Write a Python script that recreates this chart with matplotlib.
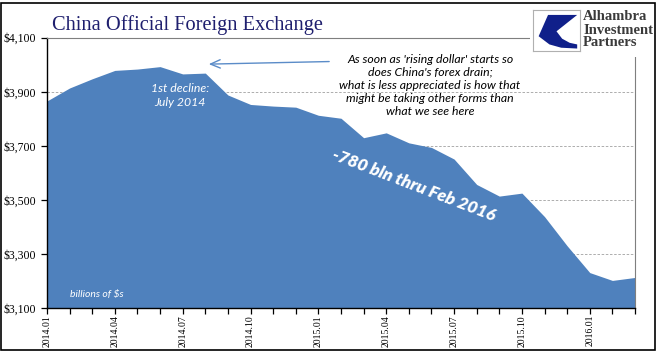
import numpy as np
import matplotlib
matplotlib.use("Agg")
import matplotlib.pyplot as plt
from matplotlib.patches import Rectangle, Polygon

# China official FX reserves, billions of USD, monthly
months = ["2014.01", "2014.02", "2014.03", "2014.04", "2014.05", "2014.06",
          "2014.07", "2014.08", "2014.09", "2014.10", "2014.11", "2014.12",
          "2015.01", "2015.02", "2015.03", "2015.04", "2015.05", "2015.06",
          "2015.07", "2015.08", "2015.09", "2015.10", "2015.11", "2015.12",
          "2016.01", "2016.02", "2016.03"]
reserves = [3866, 3914, 3948, 3979, 3984, 3993,
            3966, 3969, 3888, 3853, 3847, 3843,
            3813, 3802, 3730, 3748, 3711, 3694,
            3651, 3557, 3514, 3525, 3438, 3330,
            3231, 3202, 3213]
y_ticks = [3100, 3300, 3500, 3700, 3900, 4100]

blue = "#4F81BD"
serif = "Liberation Serif"
sans = "Lato"

fig = plt.figure(figsize=(6.64, 3.61), dpi=100)
ax = fig.add_axes([47 / 664, 53 / 361, 588 / 664, 270.3 / 361])

x = np.arange(len(months))
ax.fill_between(x, reserves, y_ticks[0], color=blue, linewidth=0, zorder=2)

ax.set_xlim(0, len(months) - 1)
ax.set_ylim(y_ticks[0], y_ticks[-1])

# axes styling
ax.set_yticks(y_ticks)
ax.set_yticklabels([f"${v:,}" for v in y_ticks], fontfamily=serif, fontsize=8.5)
ax.set_xticks(x[::3])
ax.set_xticklabels(months[::3], rotation=90, fontfamily=serif, fontsize=7)
ax.set_xticks(x, minor=True)
ax.tick_params(axis="both", which="both", direction="out", length=4, width=0.9,
               colors="black")
ax.tick_params(axis="x", pad=1)
ax.tick_params(axis="y", pad=4)

for v in y_ticks[1:-1]:
    ax.axhline(v, color="#A0A0A0", linestyle=(0, (3, 2)), linewidth=0.6, zorder=1)

ax.spines["left"].set_color("black")
ax.spines["bottom"].set_color("black")
ax.spines["left"].set_linewidth(1.0)
ax.spines["bottom"].set_linewidth(1.0)
ax.spines["top"].set_color("#7F7F7F")
ax.spines["right"].set_color("#7F7F7F")
ax.spines["top"].set_linewidth(0.8)
ax.spines["right"].set_linewidth(0.8)

# annotations
ax.annotate("", xy=(7.03, 4002), xytext=(12.6, 4012),
            arrowprops=dict(arrowstyle="->,head_length=0.7,head_width=0.3",
                            color="#5B8CC8", lw=1.0), zorder=5)
ax.text(16.94, 3924,
        "As soon as 'rising dollar' starts so\ndoes China's forex drain;\n"
        "what is less appreciated is how that\nmight be taking other forms than\n"
        "what we see here",
        ha="center", va="center", fontsize=8.8, fontstyle="italic",
        fontfamily=sans, linespacing=1.22, color="black", zorder=5)
ax.text(5.88, 3886, "1st decline:\nJuly 2014", ha="center", va="center",
        fontsize=8.8, fontstyle="italic", fontfamily=sans, color="white",
        linespacing=1.3, zorder=5)
ax.text(1.02, 3151, "billions of $s", ha="left", va="center", fontsize=7.5,
        fontstyle="italic", fontfamily=sans, color="white", zorder=5)
ax.text(16.2, 3553, "-780 bln thru Feb 2016", ha="center", va="center",
        rotation=-21, rotation_mode="anchor", fontsize=12.5, fontweight="heavy",
        fontstyle="italic", fontfamily=sans, color="white", zorder=5)

# title
fig.text(52 / 664, (361 - 30) / 361, "China Official Foreign Exchange",
         fontfamily=serif, fontsize=14.7, color="#1F1F6E", va="baseline", ha="left")

# outer frame
fig.patches.append(Rectangle((1 / 664, 11 / 361), 654 / 664, 347 / 361,
                             transform=fig.transFigure, fill=False,
                             edgecolor="black", linewidth=1.2, zorder=1))

# logo area
fig.patches.append(Rectangle((530 / 664, (361 - 57) / 361), 122 / 664, 48 / 361,
                             transform=fig.transFigure, facecolor="white",
                             edgecolor="none", zorder=1))
logo = fig.add_axes([533 / 664, (361 - 51) / 361, 47 / 664, 41 / 361], zorder=3)
logo.set_xlim(0, 1)
logo.set_ylim(0, 1)
logo.set_xticks([])
logo.set_yticks([])
for s in logo.spines.values():
    s.set_color("#B0B0B0")
    s.set_linewidth(0.8)
logo.add_patch(Polygon([(0.32, 0.88), (0.94, 0.88), (0.50, 0.48), (0.62, 0.30),
                        (0.78, 0.20), (0.94, 0.16), (0.94, 0.06), (0.60, 0.08),
                        (0.35, 0.16), (0.12, 0.36)],
                       closed=True, facecolor="#10208A", edgecolor="none"))
for i, word in enumerate(["Alhambra", "Investment", "Partners"]):
    fig.text(583 / 664, (361 - 17 - 13 * i) / 361, word, fontfamily=serif,
             fontsize=10.5, fontweight="bold", color="#3A3A3A", va="center",
             ha="left", zorder=4)

fig.savefig("out.png", dpi=100, facecolor="white")
